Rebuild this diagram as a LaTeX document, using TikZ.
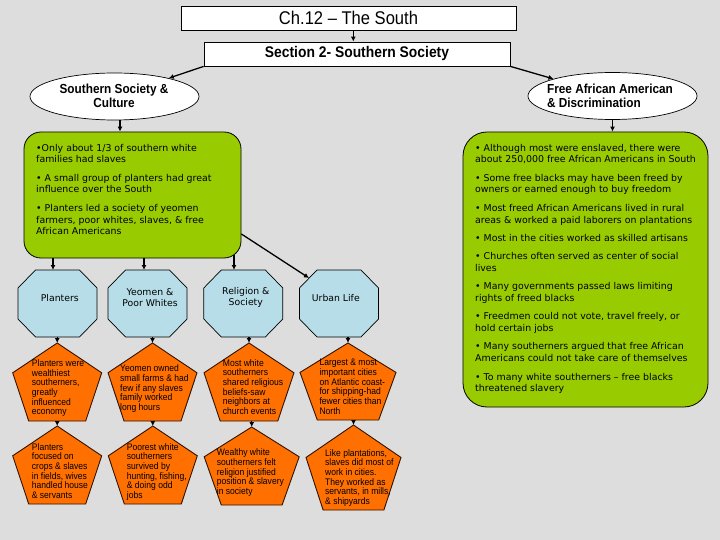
\documentclass[tikz,border=0pt]{standalone}
\usepackage{fontspec}
\setmainfont{DejaVu Sans}
\newfontfamily\hdrfont[FakeStretch=0.9]{Liberation Sans}
\usetikzlibrary{arrows.meta,shapes.geometric}
\definecolor{bggray}{HTML}{DDDDDD}
\definecolor{limegreen}{HTML}{99CC00}
\definecolor{octblue}{HTML}{B7DEE8}
\definecolor{orng}{HTML}{FF7000}
\definecolor{pentline}{HTML}{331100}
\tikzset{
  arr/.style={line width=1.3pt,-{Latex[length=5pt,width=5pt]}},
  hdrbox/.style={draw=black,line width=0.8pt,fill=white,inner sep=0pt,minimum height=24pt},
  ellbox/.style={ellipse,draw=black,line width=0.7pt,fill=white,minimum width=169pt,minimum height=47pt,inner sep=0pt},
  ellt/.style={inner sep=0pt,font=\hdrfont\bfseries\fontsize{13.1}{14}\selectfont},
  greenbox/.style={draw=black,line width=0.8pt,fill=limegreen,inner sep=0pt},
  greent/.style={anchor=north west,inner sep=0pt,align=left,font=\fontsize{9.4}{11.8}\selectfont},
  octt/.style={inner sep=0pt,align=center,font=\fontsize{9.3}{11.6}\selectfont},
  pentt/.style={anchor=north west,inner sep=0pt,align=left,font=\hdrfont\fontsize{9.5}{9.65}\selectfont},
  octshape/.style={draw=black,line width=0.7pt,fill=octblue},
  pentshape/.style={draw=pentline,line width=0.9pt,fill=orng},
  pics/octpic/.style={code={
    \path[octshape] (-22,-33.5) -- (22,-33.5) -- (39.5,-15.5) -- (39.5,15.5) -- (22,33.5) -- (-22,33.5) -- (-39.5,15.5) -- (-39.5,-15.5) -- cycle;
    \coordinate (-top) at (0,-33.5);
    \coordinate (-bot) at (0,33.5);
    \coordinate (-nw) at (-30,-25.5);
  }},
  pics/pentpic/.style n args={2}{code={
    \path[pentshape] (0,0) -- (0.5*#1,0.382*#2) -- (0.32*#1,#2) -- (-0.32*#1,#2) -- (-0.5*#1,0.382*#2) -- cycle;
    \coordinate (-tip) at (0,0);
    \coordinate (-bot) at (0,#2);
  }}
}
\begin{document}
\begin{tikzpicture}[x=1pt,y=-1pt]
\useasboundingbox (0,0) rectangle (720,540);
\fill[bggray] (0,0) rectangle (720,540);

% header boxes
\node[hdrbox,minimum width=335pt,font=\hdrfont\fontsize{18.4}{20}\selectfont] (tbox) at (348.5,18) {Ch.12 – The South};
\node[hdrbox,minimum width=306pt,font=\hdrfont\bfseries\fontsize{15.4}{17}\selectfont] (sbox) at (357,54) {Section 2- Southern Society};

% ellipses
\node[ellbox] (lell) at (114.5,96.5) {};
\node[ellt,align=center] (lellt) at (114,96.3) {Southern Society \&\\Culture};
\node[ellbox] (rell) at (612.5,96) {};
\node[ellt,align=left] (rellt) at (610,96.3) {Free African American\\\& Discrimination};

% green boxes
\node[greenbox,rounded corners=17pt,minimum width=217pt,minimum height=126pt] (lg) at (132.5,195) {};
\node[greenbox,rounded corners=24pt,minimum width=245pt,minimum height=275pt] (rg) at (585.5,269.5) {};

\node[greent] (lgt) at (36,143.7) {•Only about 1/3 of southern white\\families had slaves\\[6.5pt]
• A small group of planters had great\\influence over the South\\[6.5pt]
• Planters led a society of yeomen\\farmers, poor whites, slaves, \& free\\African Americans};

\node[greent] (rgt) at (475,143.7) {• Although most were enslaved, there were\\about 250,000 free African Americans in South\\[6.5pt]
• Some free blacks may have been freed by\\owners or earned enough to buy freedom\\[6.5pt]
• Most freed African Americans lived in rural\\areas \& worked a paid laborers on plantations\\[6.5pt]
• Most in the cities worked as skilled artisans\\[6.5pt]
• Churches often served as center of social\\lives\\[6.5pt]
• Many governments passed laws limiting\\rights of freed blacks\\[6.5pt]
• Freedmen could not vote, travel freely, or\\hold certain jobs\\[6.5pt]
• Many southerners argued that free African\\Americans could not take care of themselves\\[6.5pt]
• To many white southerners – free blacks\\threatened slavery};

% octagons
\pic (o1) at (57.5,303.5) {octpic};
\pic (o2) at (147.5,303.5) {octpic};
\pic (o3) at (243.3,303.5) {octpic};
\pic (o4) at (339,303.5) {octpic};
\node[octt] (o1t) at (59.8,297.7) {Planters};
\node[octt] (o2t) at (150,297.5) {Yeomen \&\\Poor Whites};
\node[octt] (o3t) at (245.8,297.5) {Religion \&\\Society};
\node[octt] (o4t) at (335.8,297.7) {Urban Life};

% pentagons row 1
\pic (p1) at (57.2,343) {pentpic={89}{78}};
\pic (p2) at (152.5,343) {pentpic={89}{78}};
\pic (p3) at (249,343) {pentpic={90}{78}};
\pic (p4) at (348,343) {pentpic={96}{77}};
% pentagons row 2
\pic (q1) at (57.2,426) {pentpic={89}{78}};
\pic (q2) at (152.8,426) {pentpic={89}{78}};
\pic (q3) at (251.7,427) {pentpic={95}{78}};
\pic (q4) at (353.5,425) {pentpic={95}{85}};

\node[pentt] (p1t) at (31.7,359.5) {Planters were\\wealthiest\\southerners,\\greatly\\influenced\\economy};
\node[pentt] (p2t) at (120,364.8) {Yeomen owned\\small farms \& had\\few if any slaves\\family worked\\long hours};
\node[pentt] (p3t) at (222.7,359.2) {Most white\\southerners\\shared religious\\beliefs-saw\\neighbors at\\church events};
\node[pentt] (p4t) at (319.3,359.2) {Largest \& most\\important cities\\on Atlantic coast-\\for shipping-had\\fewer cities than\\North};

\node[pentt] (q1t) at (31.7,443.2) {Planters\\focused on\\crops \& slaves\\in fields, wives\\handled house\\\& servants};
\node[pentt] (q2t) at (126.7,443.2) {Poorest white\\southerners\\survived by\\hunting, fishing,\\\& doing odd\\jobs};
\node[pentt] (q3t) at (216.7,448.8) {Wealthy white\\southerners felt\\religion justified\\position \& slavery\\in society};
\node[pentt] (q4t) at (325,449.2) {Like plantations,\\slaves did most of\\work in cities.\\They worked as\\servants, in mills,\\\& shipyards};

% connectors
\draw[arr] ([xshift=4.8pt]tbox.south) -- ([xshift=4.8pt]tbox.south |- sbox.north);
\draw[arr] (sbox.south west) -- (lell);
\draw[arr] (sbox.south east) -- (rell);
\draw[arr] ([xshift=5.5pt]lell.south) -- ([xshift=5.5pt]lell.south |- lg.north);
\draw[arr] (rell.south) -- (rell.south |- rg.north);

\draw[arr] ([xshift=-4.5pt]o1-top |- lg.south) -- ([xshift=-4.5pt]o1-top);
\draw[arr] ([xshift=-3.5pt]o2-top |- lg.south) -- ([xshift=-3.5pt]o2-top);
\draw[arr] ([xshift=-9.3pt,yshift=3.3pt]o3-top |- lg.south) -- ([xshift=-9.3pt]o3-top);
\draw[arr] ([yshift=-39pt]lg.east) -- (o4-nw);

\draw[arr] (p1-tip |- o1-bot) -- (p1-tip);
\draw[arr] (p2-tip |- o2-bot) -- (p2-tip);
\draw[arr] (p3-tip |- o3-bot) -- (p3-tip);
\draw[arr] (p4-tip |- o4-bot) -- (p4-tip);

\draw[arr] (q1-tip |- p1-bot) -- (q1-tip);
\draw[arr] (q2-tip |- p2-bot) -- (q2-tip);
\draw[arr] (q3-tip |- p3-bot) -- (q3-tip);
\draw[arr] (q4-tip |- p4-bot) -- (q4-tip);
\end{tikzpicture}
\end{document}
